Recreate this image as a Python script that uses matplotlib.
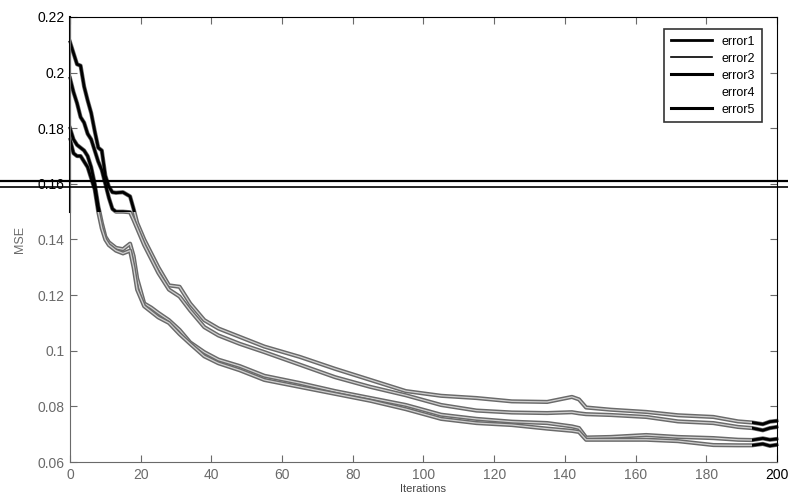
import matplotlib.pyplot as plt
import matplotlib.patheffects as pe
from matplotlib.lines import Line2D
from matplotlib.patches import Rectangle

plt.rcParams['font.family'] = ['Liberation Sans', 'DejaVu Sans']

iters = [0, 1, 2, 3, 4, 5, 6, 7, 8, 9, 10, 11, 12, 13, 15, 17, 18, 19, 21, 23,
         25, 28, 31, 34, 38, 42, 48, 55, 65, 75, 85, 95, 105, 115, 125, 135,
         142, 144, 146, 153, 163, 172, 182, 189, 193, 196, 198, 200]

error1 = [.211, .207, .203, .2025, .195, .190, .1855, .179, .173, .172,
          .163, .159, .157, .1568, .157, .1555, .151, .146, .140, .135,
          .130, .1235, .123, .117, .111, .108, .105, .1015, .0978, .0935,
          .0895, .0855, .0838, .083, .0818, .0816, .0834, .0825, .0796, .0788,
          .078, .0768, .0762, .0746, .0742, .0736, .0745, .0748]
error2 = [.198, .193, .189, .184, .182, .178, .176, .172, .168, .165,
          .160, .155, .151, .150, .150, .1498, .147, .144, .138, .133,
          .128, .122, .1195, .1145, .1085, .1055, .1025, .0995, .095, .0905,
          .087, .084, .0805, .0785, .0778, .0776, .0779, .0775, .0772, .0769,
          .0762, .0746, .074, .0726, .0722, .0714, .0722, .0726]
error3 = [.180, .176, .174, .173, .172, .170, .166, .160, .152, .146,
          .141, .139, .138, .137, .1365, .1385, .134, .126, .117, .1155,
          .1136, .111, .1075, .103, .0995, .0968, .0945, .091, .0884, .0855,
          .083, .0805, .077, .0755, .0745, .074, .0728, .0722, .0688, .069,
          .0697, .069, .0686, .068, .0679, .0685, .068, .0683]
error4 = []  # no visible curve in the original, only a legend entry
error5 = [.176, .171, .170, .170, .168, .166, .162, .158, .150, .144,
          .140, .138, .137, .136, .135, .136, .130, .122, .116, .114,
          .112, .110, .106, .1025, .098, .0955, .093, .0895, .087, .0845,
          .082, .079, .0755, .074, .0733, .072, .0712, .0708, .068, .068,
          .068, .0675, .0661, .066, .066, .0665, .0658, .0662]

xticks = [0, 20, 40, 60, 80, 100, 120, 140, 160, 180, 200]
yticks = [0.06, 0.08, 0.1, 0.12, 0.14, 0.16, 0.18, 0.2, 0.22]
ytick_labels = ['0.06', '0.08', '0.1', '0.12', '0.14', '0.16', '0.18', '0.2', '0.22']

grey = '#6a6a6a'

fig = plt.figure(figsize=(7.88, 5.0), dpi=100)
ax = fig.add_axes([0.0888, 0.076, 0.8972, 0.89])

series = [error1, error2, error3, error5]

# grey, slightly hollow strokes (scan look)
for s in series:
    ax.plot(iters, s, color=grey, lw=1.0,
            path_effects=[pe.Stroke(linewidth=3.0, foreground=grey),
                          pe.Stroke(linewidth=0.9, foreground='#d0d0d0')])

# black parts: top band and right end
clips = [Rectangle((-5, 0.1498), 210, 0.1, transform=ax.transData),
         Rectangle((193, 0.0), 20, 0.3, transform=ax.transData)]
for clip in clips:
    for s in series:
        ln, = ax.plot(iters, s, color='black', lw=2.0)
        ln.set_clip_path(clip)

ax.set_xlim(0, 200)
ax.set_ylim(0.06, 0.22)
ax.set_xticks(xticks)
ax.set_yticks(yticks)
ax.set_yticklabels(ytick_labels)
ax.tick_params(direction='in', length=5, top=True, right=True, labelsize=10,
               colors=grey, pad=4)
for lab, v in zip(ax.get_yticklabels(), yticks):
    if v >= 0.159:
        lab.set_color('black')
ax.get_xticklabels()[-1].set_color('black')

for side in ['left', 'bottom']:
    ax.spines[side].set_color(grey)
for side in ['top', 'right']:
    ax.spines[side].set_color('black')
ax.plot([0, 0], [0.1498, 0.22], color='black', lw=1.5, clip_on=False)

ax.set_xlabel('Iterations', fontsize=8, color='#444444', labelpad=2)
ax.set_ylabel('MSE', fontsize=9, color=grey, labelpad=8)

handles = [Line2D([], [], color='black', lw=2.0),
           Line2D([], [], color='black', lw=1.2),
           Line2D([], [], color='black', lw=2.2),
           Line2D([], [], color='white', lw=1.0),
           Line2D([], [], color='black', lw=2.2)]
leg = ax.legend(handles, ['error1', 'error2', 'error3', 'error4', 'error5'],
                loc='upper right', bbox_to_anchor=(0.987, 0.986), fontsize=9,
                frameon=True, fancybox=False, edgecolor='black',
                handlelength=3.3, labelspacing=0.4, borderpad=0.5)
leg.get_frame().set_linewidth(1.2)

# scanner streaks across the page
fig.add_artist(Line2D([0, 1], [0.638, 0.638], transform=fig.transFigure,
                      color='black', lw=1.6))
fig.add_artist(Line2D([0, 1], [0.626, 0.626], transform=fig.transFigure,
                      color='black', lw=1.2))

fig.savefig('out.png', dpi=100)
